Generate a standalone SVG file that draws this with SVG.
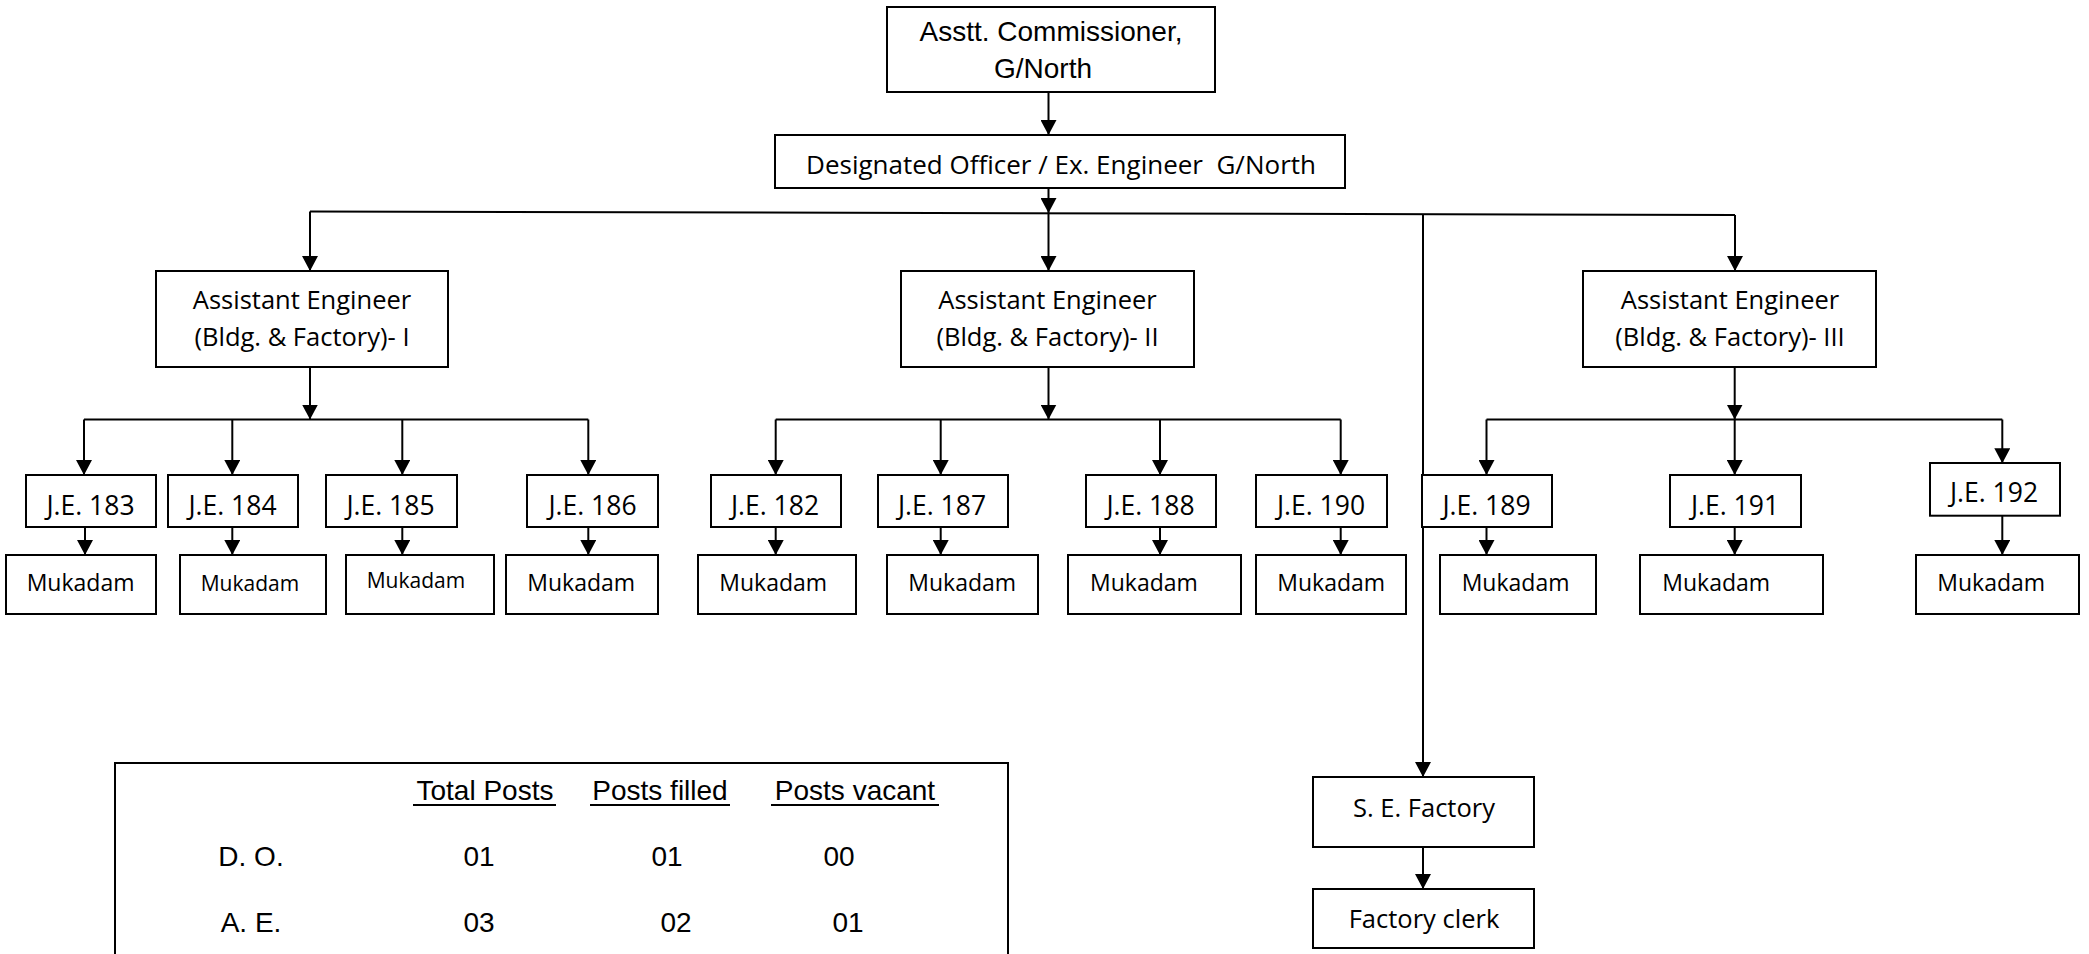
<svg xmlns="http://www.w3.org/2000/svg" width="2089" height="954" viewBox="0 0 2089 954">
<style>
.bg{fill:#fff}
.box{fill:#fff;stroke:#000;stroke-width:2}
.t{font-family:"Open Sans","Noto Sans",sans-serif;fill:#000;font-size:25.5px}
.je{font-family:"Open Sans","Noto Sans",sans-serif;fill:#000;font-size:26.5px;text-anchor:middle}
.mk{font-family:"Open Sans","Noto Sans",sans-serif;fill:#000;font-size:23px}
.mks{font-family:"Open Sans","Noto Sans",sans-serif;fill:#000;font-size:21px}
.mid{text-anchor:middle}
.ar{font-family:"Liberation Sans",Arial,sans-serif;fill:#000;font-size:28px}
.c{stroke:#000;stroke-width:2;fill:none}
.a{marker-end:url(#ah)}
.u{stroke:#000;stroke-width:2}
</style>
<defs>
<marker id="ah" markerUnits="userSpaceOnUse" viewBox="0 0 16 16" markerWidth="16" markerHeight="16" refX="15" refY="8" orient="auto">
<path d="M0,0 L15,8 L0,16 Z" fill="#000"/>
</marker>
</defs>
<rect class="bg" x="0" y="0" width="2089" height="954"/>

<g id="connectors">
<path class="c a" d="M1048.5,92 V135"/>
<path class="c a" d="M1048.5,188 V213"/>
<path class="c" d="M310,211.5 L1735,215"/>
<path class="c a" d="M310,211.5 V271"/>
<path class="c a" d="M1048.5,213 V271"/>
<path class="c a" d="M1735,215 V271"/>
<path class="c a" d="M1423,214 V777"/>
<path class="c a" d="M310,367 V419.5"/>
<path class="c" d="M84,419.5 H588.3"/>
<path class="c a" d="M84,419.5 V475"/>
<path class="c a" d="M232.3,419.5 V475"/>
<path class="c a" d="M402.3,419.5 V475"/>
<path class="c a" d="M588.3,419.5 V475"/>
<path class="c a" d="M1048.5,367 V419.5"/>
<path class="c" d="M775.7,419.5 H1340.7"/>
<path class="c a" d="M775.7,419.5 V475"/>
<path class="c a" d="M940.7,419.5 V475"/>
<path class="c a" d="M1160,419.5 V475"/>
<path class="c a" d="M1340.7,419.5 V475"/>
<path class="c a" d="M1734.7,367 V419.5"/>
<path class="c" d="M1486.5,419.5 H2002.3"/>
<path class="c a" d="M1486.5,419.5 V475"/>
<path class="c a" d="M1734.7,419.5 V475"/>
<path class="c a" d="M2002.3,419.5 V463.3"/>
<path class="c a" d="M85,527.3 V555"/>
<path class="c a" d="M232.3,527.3 V555"/>
<path class="c a" d="M402.3,527.3 V555"/>
<path class="c a" d="M588.3,527.3 V555"/>
<path class="c a" d="M775.7,527.3 V555"/>
<path class="c a" d="M940.7,527.3 V555"/>
<path class="c a" d="M1160,527.3 V555"/>
<path class="c a" d="M1340.7,527.3 V555"/>
<path class="c a" d="M1486.5,527.3 V555"/>
<path class="c a" d="M1734.7,527.3 V555"/>
<path class="c a" d="M2002.3,515.7 V555"/>
<path class="c a" d="M1423,847 V889"/>
</g>

<g id="ac">
<rect class="box" x="887" y="7" width="328" height="85"/>
<text class="ar mid" x="1051" y="41">Asstt. Commissioner,</text>
<text class="ar mid" x="1043" y="78">G/North</text>
</g>
<g id="do">
<rect class="box" x="775" y="135" width="570" height="53"/>
<text class="t mid" x="1061" y="174" style="font-size:26px">Designated Officer / Ex. Engineer&#160; G/North</text>
</g>

<g id="ae1">
<rect class="box" x="156" y="271" width="292" height="96"/>
<text class="t mid" x="302" y="309">Assistant Engineer</text>
<text class="t mid" x="302" y="345.7">(Bldg. &amp; Factory)- I</text>
</g>
<g id="ae2">
<rect class="box" x="901" y="271" width="293" height="96"/>
<text class="t mid" x="1047.5" y="309">Assistant Engineer</text>
<text class="t mid" x="1047.5" y="345.7">(Bldg. &amp; Factory)- II</text>
</g>
<g id="ae3">
<rect class="box" x="1583" y="271" width="293" height="96"/>
<text class="t mid" x="1730" y="309">Assistant Engineer</text>
<text class="t mid" x="1730" y="345.7">(Bldg. &amp; Factory)- III</text>
</g>

<g id="je183"><rect class="box" x="26" y="475" width="130" height="52"/><text class="je" x="90.5" y="515">J.E. 183</text></g>
<g id="je184"><rect class="box" x="168" y="475" width="130" height="52"/><text class="je" x="232.5" y="515">J.E. 184</text></g>
<g id="je185"><rect class="box" x="326" y="475" width="131" height="52"/><text class="je" x="390.5" y="515">J.E. 185</text></g>
<g id="je186"><rect class="box" x="527" y="475" width="131" height="52"/><text class="je" x="592.5" y="515">J.E. 186</text></g>
<g id="je182"><rect class="box" x="711" y="475" width="130" height="52"/><text class="je" x="775" y="515">J.E. 182</text></g>
<g id="je187"><rect class="box" x="878" y="475" width="130" height="52"/><text class="je" x="942" y="515">J.E. 187</text></g>
<g id="je188"><rect class="box" x="1086" y="475" width="130" height="52"/><text class="je" x="1150.5" y="515">J.E. 188</text></g>
<g id="je190"><rect class="box" x="1256" y="475" width="131" height="52"/><text class="je" x="1321" y="515">J.E. 190</text></g>
<g id="je189"><rect class="box" x="1422" y="475" width="130" height="52"/><text class="je" x="1486.5" y="515">J.E. 189</text></g>
<g id="je191"><rect class="box" x="1670" y="475" width="131" height="52"/><text class="je" x="1735" y="515">J.E. 191</text></g>
<g id="je192"><rect class="box" x="1930" y="463" width="130" height="52.7"/><text class="je" x="1994" y="501.7">J.E. 192</text></g>

<g id="mk183"><rect class="box" x="6" y="555" width="150" height="59"/><text class="mk" x="26.7" y="590.7">Mukadam</text></g>
<g id="mk184"><rect class="box" x="180" y="555" width="146" height="59"/><text class="mks" x="200.7" y="590.7">Mukadam</text></g>
<g id="mk185"><rect class="box" x="346" y="555" width="148" height="59"/><text class="mks" x="366.7" y="588.3">Mukadam</text></g>
<g id="mk186"><rect class="box" x="506" y="555" width="152" height="59"/><text class="mk" x="527.3" y="590.5">Mukadam</text></g>
<g id="mk182"><rect class="box" x="698" y="555" width="158" height="59"/><text class="mk" x="719.3" y="590.5">Mukadam</text></g>
<g id="mk187"><rect class="box" x="887" y="555" width="151" height="59"/><text class="mk" x="908.3" y="590.5">Mukadam</text></g>
<g id="mk188"><rect class="box" x="1068" y="555" width="173" height="59"/><text class="mk" x="1090" y="590.5">Mukadam</text></g>
<g id="mk190"><rect class="box" x="1256" y="555" width="150" height="59"/><text class="mk" x="1277.3" y="590.5">Mukadam</text></g>
<g id="mk189"><rect class="box" x="1440" y="555" width="156" height="59"/><text class="mk" x="1461.7" y="590.5">Mukadam</text></g>
<g id="mk191"><rect class="box" x="1640" y="555" width="183" height="59"/><text class="mk" x="1662.3" y="590.5">Mukadam</text></g>
<g id="mk192"><rect class="box" x="1916" y="555" width="163" height="59"/><text class="mk" x="1937.3" y="590.5">Mukadam</text></g>

<g id="se">
<rect class="box" x="1313" y="777" width="221" height="70"/>
<text class="t mid" x="1424" y="816.7">S. E. Factory</text>
</g>
<g id="clerk">
<rect class="box" x="1313" y="889" width="221" height="59"/>
<text class="t mid" x="1424" y="928.3">Factory clerk</text>
</g>

<g id="table">
<rect class="box" x="115" y="763" width="893" height="260"/>
<text class="ar mid" x="485" y="800">Total Posts</text>
<line class="u" x1="413" y1="805" x2="556" y2="805"/>
<text class="ar mid" x="660" y="800">Posts filled</text>
<line class="u" x1="590" y1="805" x2="730" y2="805"/>
<text class="ar mid" x="855" y="800">Posts vacant</text>
<line class="u" x1="771" y1="805" x2="939" y2="805"/>
<text class="ar mid" x="251" y="866">D. O.</text>
<text class="ar mid" x="479" y="866">01</text>
<text class="ar mid" x="667" y="866">01</text>
<text class="ar mid" x="839" y="866">00</text>
<text class="ar mid" x="251" y="931.7">A. E.</text>
<text class="ar mid" x="479" y="931.7">03</text>
<text class="ar mid" x="676" y="931.7">02</text>
<text class="ar mid" x="848" y="931.7">01</text>
</g>
</svg>
